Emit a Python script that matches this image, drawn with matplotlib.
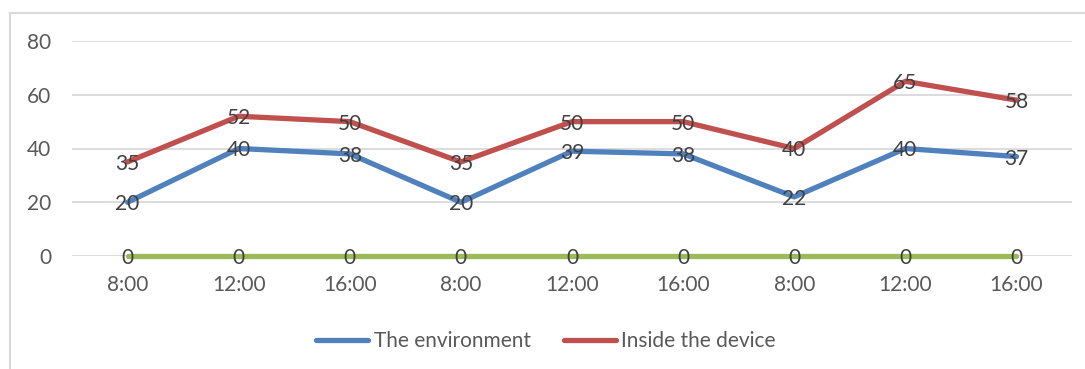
import matplotlib.pyplot as plt
from matplotlib.patches import Rectangle

categories = ["8:00", "12:00", "16:00", "8:00", "12:00", "16:00", "8:00", "12:00", "16:00"]
environment = [20, 40, 38, 20, 39, 38, 22, 40, 37]
inside_device = [35, 52, 50, 35, 50, 50, 40, 65, 58]
baseline = [0, 0, 0, 0, 0, 0, 0, 0, 0]
y_ticks = [0, 20, 40, 60, 80]

plt.rcParams['font.family'] = ['Lato', 'DejaVu Sans']

W, H = 1085, 369
fig = plt.figure(figsize=(W / 100, H / 100), dpi=100)

# outer chart frame
frame = Rectangle((10 / W, -0.1), 1.2, (H - 13) / H + 0.1, transform=fig.transFigure,
                  fill=False, edgecolor='#d9d9d9', linewidth=1.5, zorder=0)
fig.patches.append(frame)

# plot area: x 72..1072 px, y from 0 at 256 px to 80 at 41 px
left, right = 72 / W, 1072 / W
y0_px, y80_px = 256, 41
bottom = (H - y0_px) / H
top = (H - y80_px) / H
ax = fig.add_axes([left, bottom, right - left, top - bottom])
ax.set_ylim(0, 80)
ax.set_xlim(-0.5, len(categories) - 0.5)

for s in ax.spines.values():
    s.set_visible(False)
ax.set_yticks(y_ticks)
ax.yaxis.grid(True, color='#d9d9d9', linewidth=1.3)
ax.set_axisbelow(True)
ax.tick_params(length=0, labelsize=15, colors='#595959', pad=0)
ax.tick_params(axis='y', pad=15)
ax.tick_params(axis='x', pad=14)
ax.set_xticks(range(len(categories)))
ax.set_xticklabels(categories)

x = list(range(len(categories)))
series = [
    (environment, '#4f81bd', 'The environment'),
    (inside_device, '#c0504d', 'Inside the device'),
    (baseline, '#9bbb59', None),
]
handles = []
for vals, color, name in series:
    ln, = ax.plot(x, vals, color=color, linewidth=3.8, solid_capstyle='round',
                  solid_joinstyle='round', clip_on=False, zorder=3)
    if name:
        handles.append((ln, name))
    for xi, v in zip(x, vals):
        ax.text(xi, v, str(v), ha='center', va='center_baseline', fontsize=15,
                color='#404040', zorder=5)

leg = fig.legend([h for h, _ in handles], [n for _, n in handles],
                 loc='center', bbox_to_anchor=(546 / W, (H - 341) / H),
                 ncol=2, frameon=False, fontsize=15, handlelength=2.5,
                 handletextpad=0.25, columnspacing=1.6)
for t in leg.get_texts():
    t.set_color('#595959')

fig.savefig('out.png', dpi=100)
